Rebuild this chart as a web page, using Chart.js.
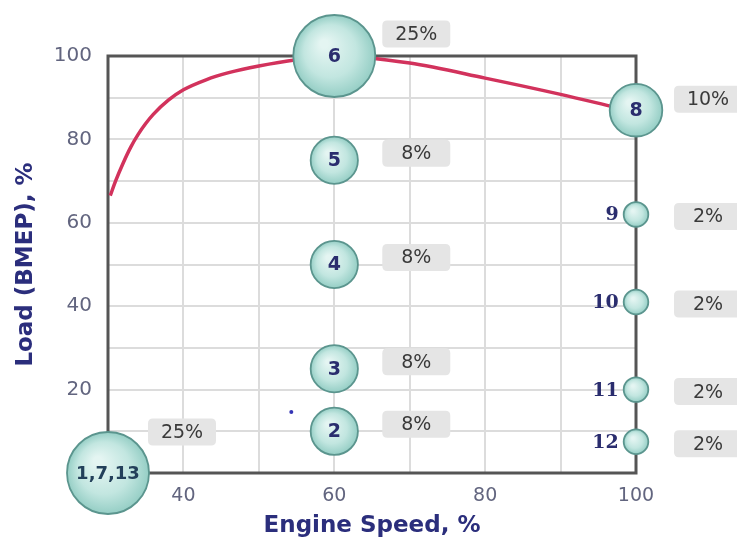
<!DOCTYPE html>
<html>
<head>
<meta charset="utf-8">
<script src="https://cdn.jsdelivr.net/npm/chart.js@4"></script>
<style>
html,body{margin:0;padding:0;background:#fff;}
#wrap{width:737px;height:546px;position:relative;}
</style>
</head>
<body>
<div id="wrap"><canvas id="c" width="737" height="546"></canvas></div>
<script>
// ---- data ----
const pointLabels = ['1,7,13','2','3','4','5','6','8','9','10','11','12'];
const speed = [30,60,60,60,60,60,100,100,100,100,100];
const load  = [0,10,25,50,75,100,87,62,41,20,7.5];
const share = [25,8,8,8,8,25,10,2,2,2,2];

const curveSpeed = [30.3,31,32,33,34,35,36,38,40,43,46,50,55,60,70,80,90,97];
const curveLoad  = [66.5,70,74.3,78.1,81.2,83.8,86,89.4,91.9,94.3,96,97.6,99.1,100,98.3,94.7,90.8,87.8];

const markerSpeed = [54.3];
const markerLoad  = [14.6];

const xTicks = [40,60,80,100];
const yTicks = [20,40,60,80,100];

const xTitle = 'Engine Speed, %';
const yTitle = 'Load (BMEP), %';

// ---- helpers ----
const radiusFor = s => 8*Math.sqrt(s) + 1;
const bubbleData = speed.map((x,i)=>({x:x, y:load[i], r:radiusFor(share[i])}));

function bubbleFill(c){
  const chart = c.chart;
  const raw = c.raw;
  if(!raw || !chart.scales || !chart.scales.x) return '#bde4de';
  const px = chart.scales.x.getPixelForValue(raw.x);
  const py = chart.scales.y.getPixelForValue(raw.y);
  const r = raw.r || 10;
  if(!isFinite(px) || !isFinite(py)) return '#bde4de';
  const g = chart.ctx.createRadialGradient(px - r*0.25, py - r*0.3, r*0.1, px, py, r);
  g.addColorStop(0, '#e4f5f2');
  g.addColorStop(0.6, '#c2e6e0');
  g.addColorStop(1, '#95cec5');
  return g;
}

const frame = {
  id:'frame',
  beforeDatasetsDraw(chart){
    const {ctx, chartArea:a} = chart;
    ctx.save();
    ctx.strokeStyle = '#555';
    ctx.lineWidth = 3;
    ctx.strokeRect(a.left, a.top, a.right-a.left, a.bottom-a.top);
    ctx.restore();
  }
};

function roundRect(ctx,x,y,w,h,r){
  ctx.beginPath();
  ctx.moveTo(x+r,y);
  ctx.lineTo(x+w-r,y); ctx.quadraticCurveTo(x+w,y,x+w,y+r);
  ctx.lineTo(x+w,y+h-r); ctx.quadraticCurveTo(x+w,y+h,x+w-r,y+h);
  ctx.lineTo(x+r,y+h); ctx.quadraticCurveTo(x,y+h,x,y+h-r);
  ctx.lineTo(x,y+r); ctx.quadraticCurveTo(x,y,x+r,y);
  ctx.closePath();
}

const labels = {
  id:'labels',
  afterDatasetsDraw(chart){
    const ctx = chart.ctx;
    const xs = chart.scales.x, ys = chart.scales.y;
    ctx.save();
    speed.forEach((sx,i)=>{
      const px = xs.getPixelForValue(sx);
      const py = ys.getPixelForValue(load[i]);
      const r = radiusFor(share[i]);
      ctx.fillStyle = '#2a2d6e';
      ctx.textBaseline = 'middle';
      if(r > 20){
        ctx.font = (pointLabels[i].length>2 ? 'bold 18px "DejaVu Sans"' : 'bold 19px "DejaVu Sans"');
        ctx.fillStyle = pointLabels[i].length>2 ? '#23405a' : '#2a2d6e';
        ctx.textAlign = 'center';
        ctx.fillText(pointLabels[i], px, py+1);
      } else {
        ctx.font = 'bold 19px "DejaVu Serif"';
        ctx.textAlign = 'right';
        ctx.fillText(pointLabels[i], px - r - 5, py+1);
      }
      let dx, dy;
      if(sx >= 100){ dx = 72; dy = r > 20 ? -11 : 2; }
      else if(sx <= 30){ dx = 74; dy = -41; }
      else { dx = 82; dy = r > 30 ? -22 : -7; }
      const bx = px + dx, by = py + dy;
      const w = 68, h = 27;
      ctx.fillStyle = '#e5e5e5';
      roundRect(ctx, bx - w/2, by - h/2, w, h, 5);
      ctx.fill();
      ctx.fillStyle = '#3a3a3a';
      ctx.font = '19px "DejaVu Sans"';
      ctx.textAlign = 'center';
      ctx.fillText(share[i] + '%', bx, by+1);
    });
    ctx.restore();
  }
};

new Chart(document.getElementById('c'), {
  type:'bubble',
  data:{
    datasets:[
      {
        label:'modes',
        data: bubbleData,
        backgroundColor: bubbleFill,
        borderColor:'#5b958e',
        borderWidth:1.8,
        hoverBorderWidth:1.8,
        clip:false,
        order:0
      },
      {
        label:'marker',
        data: markerSpeed.map((x,i)=>({x:x,y:markerLoad[i],r:2})),
        backgroundColor:'#3535b5',
        borderWidth:0,
        clip:false,
        order:1
      },
      {
        type:'line',
        label:'curve',
        data: curveSpeed.map((x,i)=>({x:x,y:curveLoad[i]})),
        borderColor:'#d2325c',
        borderWidth:3.5,
        pointRadius:0,
        fill:false,
        cubicInterpolationMode:'monotone',
        clip:false,
        order:2
      }
    ]
  },
  options:{
    responsive:false,
    animation:false,
    devicePixelRatio:1,
    layout:{padding:{left:12,right:101,top:56,bottom:6}},
    plugins:{legend:{display:false},tooltip:{enabled:false}},
    scales:{
      x:{
        type:'linear', min:30, max:100,
        afterFit(s){ s.height = 67; },
        grid:{color:'#dcdcdc', lineWidth:2, drawTicks:false},
        border:{display:false},
        ticks:{
          stepSize:10, padding:12,
          color:'#62657f',
          font:{family:'DejaVu Sans', size:19},
          callback:(v)=> xTicks.includes(v) ? String(v) : ''
        },
        title:{display:true, text:xTitle, color:'#2b2e7c',
          font:{family:'DejaVu Sans', size:23, weight:'bold'}, padding:{top:0,bottom:0}}
      },
      y:{
        type:'linear', min:0, max:100,
        afterFit(s){ s.width = 96; },
        grid:{color:'#dcdcdc', lineWidth:2, drawTicks:false},
        border:{display:false},
        ticks:{
          stepSize:10, padding:16,
          color:'#62657f',
          font:{family:'DejaVu Sans', size:20},
          callback:(v)=> yTicks.includes(v) ? String(v) : ''
        },
        title:{display:true, text:yTitle, color:'#2b2e7c',
          font:{family:'DejaVu Sans', size:23, weight:'bold'}, padding:{top:0,bottom:0}}
      }
    }
  },
  plugins:[frame, labels]
});
</script>
</body>
</html>
